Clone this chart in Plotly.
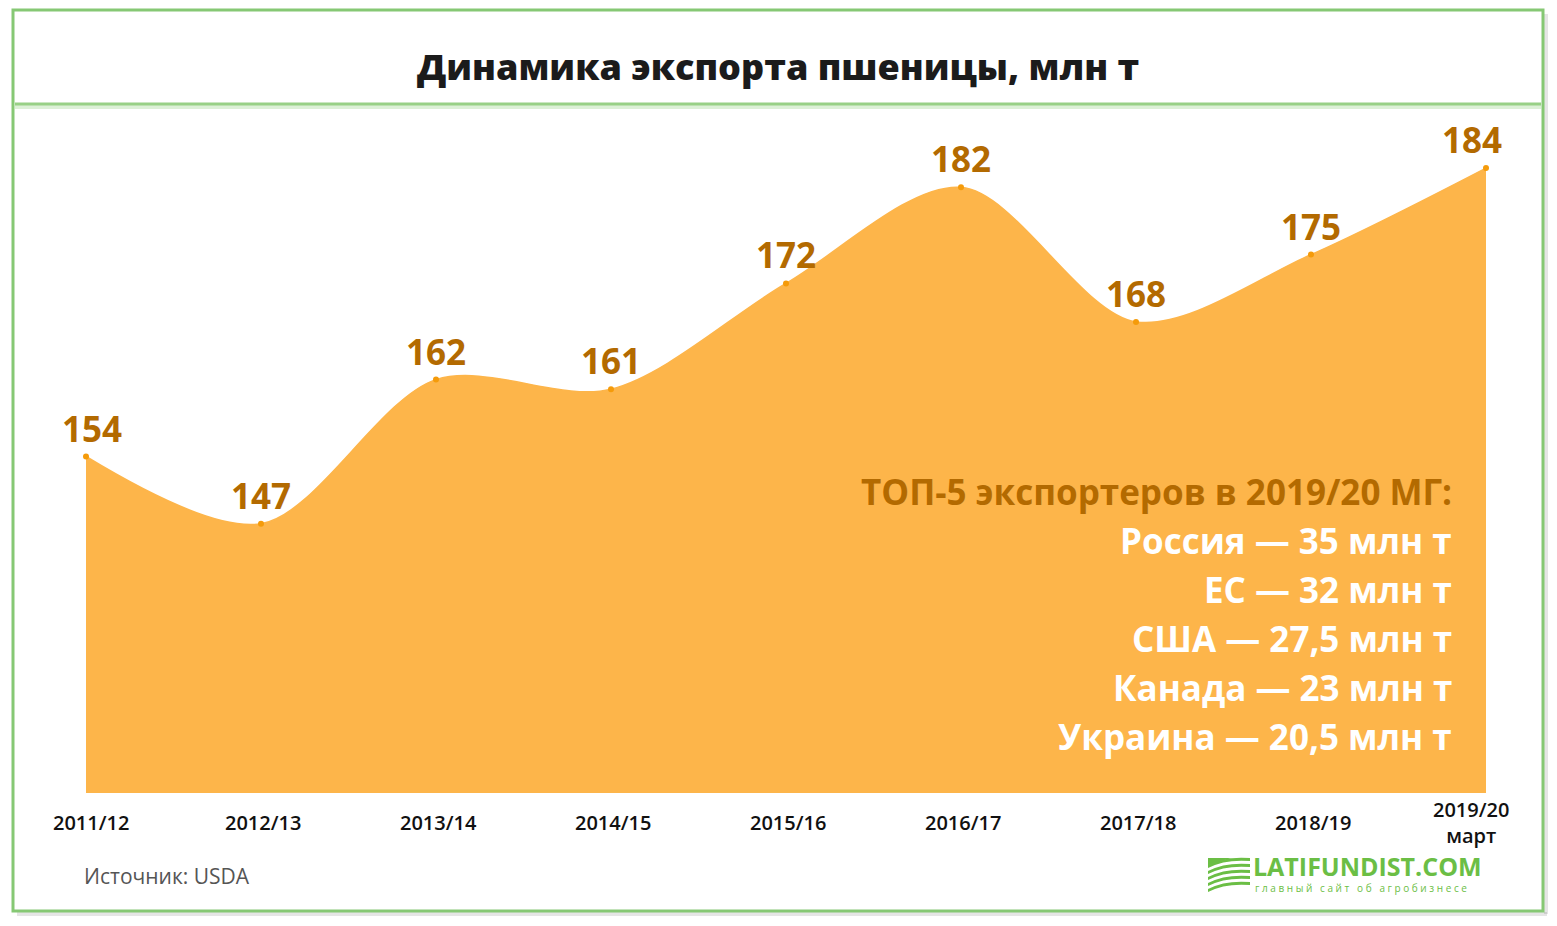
import plotly.graph_objects as go

# данные
seasons = ["2011/12", "2012/13", "2013/14", "2014/15", "2015/16",
           "2016/17", "2017/18", "2018/19", "2019/20"]
season_labels = ["2011/12", "2012/13", "2013/14", "2014/15", "2015/16",
                 "2016/17", "2017/18", "2018/19", "2019/20<br>март"]
export = [154, 147, 162, 161, 172, 182, 168, 175, 184]

top5_title = "ТОП-5 экспортеров в 2019/20 МГ:"
top5_lines = ["Россия — 35 млн т", "ЕС — 32 млн т", "США — 27,5 млн т",
              "Канада — 23 млн т", "Украина — 20,5 млн т"]

OFF = 8  # отступ body в html
W, H = 1541, 910
L, T = 86 - OFF, 110 - OFF
R = W - (1486 - OFF)
B = H - (793 - OFF)
PW, PH = W - L - R, H - T - B


def px(x):
    # экранный пиксель -> paper
    return (x - OFF - L) / PW


def py(y):
    return (H - B - (y - OFF)) / PH


FONT = "Open Sans"
fig = go.Figure()

fig.add_trace(go.Scatter(
    x=seasons, y=export,
    mode="lines+markers",
    line=dict(shape="spline", smoothing=0.9, color="#FDB54A", width=1.5),
    marker=dict(size=6, color="#F59B0A"),
    fill="tozeroy", fillcolor="#FDB54A",
    cliponaxis=False, hoverinfo="x+y",
))

ann = []
# подписи значений
for i, (s, v) in enumerate(zip(seasons, export)):
    xs = 6 if i == 0 else (-14 if i == len(seasons) - 1 else 0)
    ann.append(dict(x=s, y=v, text=str(v), showarrow=False, yanchor="bottom",
                    yshift=3, xshift=xs,
                    font=dict(family=FONT, size=35, color="#B36A00", weight="bold")))

# подписи оси X
for i, (s, t) in enumerate(zip(seasons, season_labels)):
    xs = 5 if i == 0 else (-15 if i == len(seasons) - 1 else 2)
    ann.append(dict(x=s, xref="x", y=py(822), yref="paper", text=t, showarrow=False,
                    yanchor="middle", xshift=xs,
                    font=dict(family=FONT, size=20, color="#111111", weight=600)))

# блок ТОП-5
ann.append(dict(x=px(1454), y=py(491), xref="paper", yref="paper", text=top5_title,
                showarrow=False, xanchor="right", yanchor="middle",
                font=dict(family=FONT, size=35, color="#B36A00", weight="bold")))
for k, line in enumerate(top5_lines):
    ann.append(dict(x=px(1454), y=py(540 + 49 * k), xref="paper", yref="paper",
                    text=line, showarrow=False, xanchor="right", yanchor="middle",
                    font=dict(family=FONT, size=35, color="white", weight="bold")))

# заголовок, источник, логотип
ann.append(dict(x=px(778), y=py(66), xref="paper", yref="paper",
                text="Динамика экспорта пшеницы, млн т", showarrow=False,
                xanchor="center", yanchor="middle",
                font=dict(family=FONT, size=36, color="#1b1b1b", weight=800)))
ann.append(dict(x=px(82), y=py(876), xref="paper", yref="paper", text="Источник: USDA",
                showarrow=False, xanchor="left", yanchor="middle",
                font=dict(family=FONT, size=21, color="#555555")))
ann.append(dict(x=px(1251), y=py(866), xref="paper", yref="paper", text="LATIFUNDIST.COM",
                showarrow=False, xanchor="left", yanchor="middle",
                font=dict(family=FONT, size=25, color="#6BBE45", weight="bold")))
ann.append(dict(x=px(1253), y=py(888), xref="paper", yref="paper",
                text=" ".join("главный сайт об агробизнесе"), showarrow=False,
                xanchor="left", yanchor="middle",
                font=dict(family=FONT, size=10, color="#6BBE45")))

shapes = []
# тень справа и снизу
shapes.append(dict(type="line", xref="paper", yref="paper",
                   x0=px(17), x1=px(1547), y0=py(914), y1=py(914),
                   line=dict(color="rgba(0,0,0,0.10)", width=4), layer="below"))
shapes.append(dict(type="line", xref="paper", yref="paper",
                   x0=px(1546), x1=px(1546), y0=py(14), y1=py(914),
                   line=dict(color="rgba(0,0,0,0.10)", width=4), layer="below"))
# рамка
shapes.append(dict(type="rect", xref="paper", yref="paper",
                   x0=px(13), x1=px(1543), y0=py(10), y1=py(911),
                   line=dict(color="#86C874", width=3), layer="below"))
# линия под заголовком
shapes.append(dict(type="line", xref="paper", yref="paper",
                   x0=px(15), x1=px(1541), y0=py(106), y1=py(106),
                   line=dict(color="rgba(155,211,138,0.35)", width=6), layer="below"))
shapes.append(dict(type="line", xref="paper", yref="paper",
                   x0=px(15), x1=px(1541), y0=py(104), y1=py(104),
                   line=dict(color="#98D086", width=3), layer="below"))
# значок логотипа: полосы
for j in range(5):
    y0 = 862 + j * 6
    x0 = 1208
    path = (f"M {px(x0)} {py(y0 + 3)} Q {px(1225)} {py(y0 - 6)} {px(1250)} {py(y0 - 4)} "
            f"L {px(1250)} {py(y0 - 1)} Q {px(1225)} {py(y0 - 3)} {px(x0)} {py(y0 + 6)} Z")
    shapes.append(dict(type="path", xref="paper", yref="paper", path=path,
                       fillcolor="#6BBE45", line=dict(width=0)))
shapes.append(dict(type="path", xref="paper", yref="paper",
                   path=f"M {px(1208)} {py(858)} L {px(1232)} {py(858)} "
                        f"Q {px(1218)} {py(861)} {px(1208)} {py(866)} Z",
                   fillcolor="#6BBE45", line=dict(width=0)))

fig.update_layout(
    width=W, height=H,
    margin=dict(l=L, r=R, t=T, b=B),
    paper_bgcolor="white", plot_bgcolor="white",
    showlegend=False,
    xaxis=dict(showgrid=False, zeroline=False, showticklabels=False, ticks="",
               range=[0, len(seasons) - 1], fixedrange=True),
    yaxis=dict(showgrid=False, zeroline=False, showticklabels=False, ticks="",
               range=[119, 190.04], fixedrange=True),
    annotations=ann, shapes=shapes,
)

fig.write_html("out.html")
